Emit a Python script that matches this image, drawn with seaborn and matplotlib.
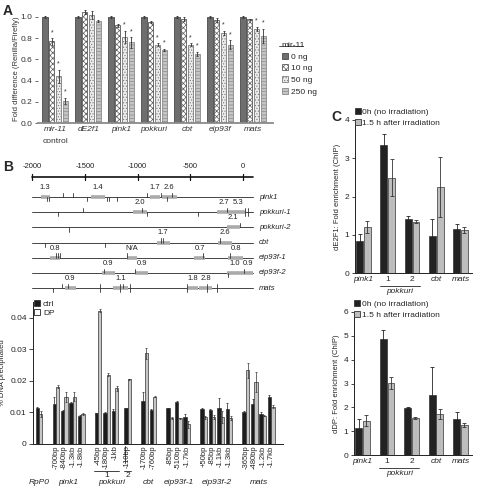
import matplotlib
matplotlib.use('Agg')
import matplotlib.pyplot as plt
import numpy as np
import pandas as pd
import seaborn as sns
from matplotlib.patches import Patch
from matplotlib.lines import Line2D

sns.set_style('ticks')
plt.rcParams['font.family'] = ['Liberation Sans', 'DejaVu Sans']
plt.rcParams['hatch.linewidth'] = 0.5

# ---------------- Panel A data ----------------
a_genes = ['mir-11', 'dE2f1', 'pink1', 'pokkuri', 'cbt', 'eip93f', 'mats']
a_doses = ['0 ng', '10 ng', '50 ng', '250 ng']
a_0ng = [1.0, 1.0, 1.0, 1.0, 1.0, 1.0, 1.0]
a_10ng = [0.77, 1.05, 0.92, 0.95, 0.98, 0.97, 0.98]
a_50ng = [0.44, 1.02, 0.81, 0.74, 0.74, 0.85, 0.89]
a_250ng = [0.21, 0.96, 0.76, 0.69, 0.65, 0.74, 0.82]
a_err_0ng = [0.005, 0.005, 0.005, 0.005, 0.005, 0.005, 0.005]
a_err_10ng = [0.03, 0.02, 0.01, 0.01, 0.02, 0.02, 0.005]
a_err_50ng = [0.06, 0.04, 0.06, 0.01, 0.01, 0.02, 0.02]
a_err_250ng = [0.03, 0.01, 0.05, 0.01, 0.02, 0.04, 0.07]
a_star_10ng = [True, False, False, False, False, False, False]
a_star_50ng = [True, False, True, True, True, True, True]
a_star_250ng = [True, False, True, True, True, True, True]

# ---------------- Panel B map data ----------------
map_genes = ['pink1', 'pokkuri-1', 'pokkuri-2', 'cbt', 'eip93f-1', 'eip93f-2', 'mats']
map_segments = [
    [(-1921, -1832, '1.3'), (-1446, -1310, '1.4'), (-883, -788, '1.7'), (-772, -630, '2.6')],
    [(-1047, -914, '2.0'), (-250, -107, '2.7'), (-107, 19, '5.3')],
    [(-155, -28, '2.1')],
    [(-820, -693, '1.7'), (-234, -107, '2.6')],
    [(-1832, -1737, '0.8'), (-1104, -1003, 'N/A'), (-462, -361, '0.7'), (-139, -3, '0.8')],
    [(-1341, -1215, '0.9'), (-1025, -899, '0.9'), (-155, -3, '1.0'), (-3, 95, '0.9')],
    [(-1690, -1585, '0.9'), (-1231, -1089, '1.1'), (-529, -424, '1.8'), (-414, -297, '2.8')],
]
map_ticks = [
    [(-1860, 'd'), (-1840, 'd'), (-1706, 'u'), (-1611, 'u'), (-1478, 'd'), (-1294, 'd'),
     (-1272, 'd'), (-1199, 'd'), (-914, 'u'), (-782, 'u'), (-725, 'd'), (-677, 'u')],
    [(-1753, 'd'), (-1516, 'u'), (-962, 'u'), (-914, 'd'), (-424, 'd'), (-155, 'u'), (19, 'b'), (50, 'b')],
    [(-1652, 'd'), (-28, 'u')],
    [(-1880, 'd'), (-1310, 'd'), (-778, 'u'), (-757, 'u'), (-218, 'u')],
    [(-1775, 'u'), (-1760, 'u'), (-1740, 'u'), (-1104, 'u'), (-383, 'u'), (-123, 'u')],
    [(-1316, 'u'), (-1025, 'u'), (-139, 'd'), (9, 'u')],
    [(-1800, 'd'), (-1721, 'u'), (-1659, 'u'), (-1357, 'b'), (-1168, 'b'), (-1136, 'u'),
     (-1073, 'b'), (-529, 'b'), (-345, 'b'), (-244, 'b')],
]
scale_ticks = [-2000, -1500, -1000, -500, 0]

# ---------------- Panel B ChIP data ----------------
b_groups = ['RpP0', 'pink1', 'pokkuri-1', 'pokkuri-2', 'cbt', 'eip93f-1', 'eip93f-2', 'mats']
b_group_sizes = [1, 4, 3, 1, 2, 3, 4, 4]
b_sites = ['', '-700bp', '-840bp', '-1.3kb', '-1.8kb', '-45bp', '-180bp', '-1kb', '-110bp',
           '-170bp', '-760bp', '-85bp', '-510bp', '-1.7kb', '+50bp', '-85bp', '-1.1kb', '-1.3kb',
           '-365bp', '-480bp', '-1.2kb', '-1.7kb']
b_ctrl = [0.0113, 0.0127, 0.0106, 0.0131, 0.0089, 0.0097, 0.0099, 0.0106, 0.0113, 0.0136, 0.0108,
          0.0113, 0.0132, 0.0087, 0.0112, 0.0108, 0.0113, 0.0111, 0.0100, 0.0127, 0.0094, 0.0150]
b_ctrl_err = [0.0003, 0.0023, 0.0003, 0.0002, 0.0002, 0.0002, 0.0002, 0.0005, 0.0002, 0.0028, 0.0002,
              0.0002, 0.0005, 0.0009, 0.0002, 0.0003, 0.0032, 0.0020, 0.0003, 0.0016, 0.0008, 0.0005]
b_dp = [0.0095, 0.0182, 0.0150, 0.0150, 0.0095, 0.0422, 0.0220, 0.0176, 0.0205, 0.0287, 0.0150,
        0.0081, 0.0081, 0.0062, 0.0085, 0.0085, 0.0085, 0.0083, 0.0234, 0.0197, 0.0090, 0.0118]
b_dp_err = [0.0010, 0.0005, 0.0016, 0.0015, 0.0003, 0.0005, 0.0006, 0.0008, 0.0002, 0.0018, 0.0002,
            0.0003, 0.0002, 0.0012, 0.0005, 0.0007, 0.0020, 0.0007, 0.0024, 0.0032, 0.0002, 0.0005]

# ---------------- Panel C data ----------------
c_sites = ['pink1', '1', '2', 'cbt', 'mats']
c_conds = ['0h (no irradiation)', '1.5 h after irradiation']
c_e2f1_0h = [0.84, 3.35, 1.41, 0.96, 1.16]
c_e2f1_0h_err = [0.19, 0.28, 0.07, 0.46, 0.13]
c_e2f1_15h = [1.20, 2.49, 1.34, 2.24, 1.12]
c_e2f1_15h_err = [0.16, 0.48, 0.04, 0.78, 0.08]
c_ddp_0h = [1.12, 4.85, 1.98, 2.51, 1.49]
c_ddp_0h_err = [0.38, 0.41, 0.02, 1.19, 0.32]
c_ddp_15h = [1.44, 3.03, 1.56, 1.72, 1.26]
c_ddp_15h_err = [0.23, 0.25, 0.03, 0.19, 0.09]

W, H = 480, 488
fig = plt.figure(figsize=(W / 100, H / 100), dpi=100)


def rect(x0, y0, x1, y1):
    return [x0 / W, 1 - y1 / H, (x1 - x0) / W, (y1 - y0) / H]


def add_err(ax, cont, errs, color='#222222', lw=0.6, cap=1.2):
    xs = [p.get_x() + p.get_width() / 2 for p in cont]
    ys = [p.get_height() for p in cont]
    ax.errorbar(xs, ys, yerr=errs, fmt='none', ecolor=color, elinewidth=lw,
                capsize=cap, capthick=lw, zorder=5)


fs = 6
fs_s = 5.5

# ================= Panel A =================
axA = fig.add_axes(rect(38, 8.5, 273, 123))
df_a = pd.DataFrame({
    'gene': a_genes * 4,
    'dose': sum([[d] * len(a_genes) for d in a_doses], []),
    'value': a_0ng + a_10ng + a_50ng + a_250ng,
})
a_fill = {'0 ng': '#6e6e6e', '10 ng': '#ffffff', '50 ng': '#ececec', '250 ng': '#c4c4c4'}
a_edge = {'0 ng': '#4a4a4a', '10 ng': '#5a5a5a', '50 ng': '#7a7a7a', '250 ng': '#8a8a8a'}
a_hatch = {'0 ng': None, '10 ng': 'xxxxxx', '50 ng': '......', '250 ng': '-----'}
sns.barplot(data=df_a, x='gene', y='value', hue='dose', order=a_genes, hue_order=a_doses,
            palette=a_fill, errorbar=None, width=0.82, gap=0.22, legend=False, ax=axA)
a_errs = [a_err_0ng, a_err_10ng, a_err_50ng, a_err_250ng]
a_stars = [None, a_star_10ng, a_star_50ng, a_star_250ng]
for cont, dose, errs, stars in zip(axA.containers, a_doses, a_errs, a_stars):
    for p in cont:
        p.set_edgecolor(a_edge[dose])
        p.set_linewidth(0.6)
        if a_hatch[dose]:
            p.set_hatch(a_hatch[dose])
    add_err(axA, cont, errs, color='#333333', lw=0.6, cap=1.0)
    if stars is not None:
        for p, s, e in zip(cont, stars, errs):
            if s:
                axA.text(p.get_x() + p.get_width() / 2, p.get_height() + e + 0.02, '*',
                         ha='center', va='bottom', fontsize=5, color='#333333')
axA.set_xlim(-0.52, 6.6)
axA.set_ylim(0, 1.08)
axA.set_yticks([0, 0.2, 0.4, 0.6, 0.8, 1.0])
axA.set_yticklabels(['0.0', '0.2', '0.4', '0.6', '0.8', '1.0'], fontsize=fs, color='#333333')
axA.set_xticks(range(len(a_genes)))
axA.set_xticklabels(a_genes, fontsize=fs, style='italic', color='#333333')
axA.tick_params(axis='x', length=0, pad=2)
axA.tick_params(axis='y', length=2.5, width=0.6, color='#555555', pad=1.5)
axA.text(0, -0.13, 'control', transform=axA.get_xaxis_transform(), ha='center', va='top',
         fontsize=fs, color='#333333')
axA.set_xlabel('')
axA.set_ylabel('Fold difference (Renilla/Firefly)', fontsize=fs_s, color='#333333', labelpad=2)
axA.yaxis.set_label_coords(-0.075, 0.47)
for s in ['top', 'right', 'left']:
    axA.spines[s].set_visible(False)
axA.spines['bottom'].set_color('#8a8a8a')
axA.spines['bottom'].set_linewidth(1.3)

a_handles = [Patch(facecolor=a_fill[d], edgecolor=a_edge[d], hatch=a_hatch[d], linewidth=0.6)
             for d in a_doses]
legA = fig.legend(a_handles, a_doses, loc='upper left', bbox_to_anchor=(276 / W, 1 - 36 / H),
                  frameon=False, fontsize=fs, title='mir-11', title_fontsize=fs,
                  handlelength=0.75, handleheight=0.75, handletextpad=0.4, labelspacing=0.45,
                  borderpad=0.2)
legA._legend_box.align = 'left'
fig.add_artist(Line2D([279 / W, 303 / W], [1 - 46 / H, 1 - 46 / H], color='#333333', lw=0.6))

# ================= Panel B map =================
axM = fig.add_axes(rect(20, 162, 300, 295))
axM.set_xlim(-2116, 541)
axM.set_ylim(6.46, -2.31)
axM.axis('off')
scale_y = -1.32
axM.plot([-2000, 95], [scale_y, scale_y], color='#111111', lw=1.2)
for t in scale_ticks:
    axM.plot([t, t], [scale_y - 0.22, scale_y + 0.22], color='#111111', lw=0.9)
    axM.text(t, scale_y - 0.45, str(t), ha='center', va='bottom', fontsize=fs_s, color='#222222')
tick_len = 0.28
for row, (gene, segs, ticks) in enumerate(zip(map_genes, map_segments, map_ticks)):
    axM.plot([-2000, 95], [row, row], color='#444444', lw=0.7, zorder=2)
    for s0, s1, lab in segs:
        axM.plot([s0, s1], [row, row], color='#aaaaaa', lw=2.6, solid_capstyle='butt', zorder=3)
        axM.text((s0 + s1) / 2, row - 0.4, lab, ha='center', va='bottom', fontsize=fs_s,
                 color='#222222')
    for pos, d in ticks:
        y0 = row - tick_len if d in 'ub' else row
        y1 = row + tick_len if d in 'db' else row
        axM.plot([pos, pos], [y0, y1], color='#333333', lw=0.6, zorder=4)
    axM.text(150, row, gene, ha='left', va='center', fontsize=fs_s, style='italic', color='#222222')

# ================= Panel B ChIP =================
axB = fig.add_axes(rect(33, 302, 283, 444))
b_gap = [0, 2, 2, 1.5, 2, 2, 2, 2]
pos = []
cur = 0.0
for g, n in zip(b_gap, b_group_sizes):
    cur += g if pos else 0
    for i in range(n):
        pos.append(cur + i)
    cur = pos[-1]
group_pos = []
k = 0
for n in b_group_sizes:
    group_pos.append(pos[k:k + n])
    k += n
n_b = len(b_ctrl)
df_b = pd.DataFrame({'pos': pos + pos, 'val': b_ctrl + b_dp,
                     'cond': ['ctrl'] * n_b + ['DP'] * n_b})
sns.barplot(data=df_b, x='pos', y='val', hue='cond', hue_order=['ctrl', 'DP'], native_scale=True,
            palette={'ctrl': '#1c1c1c', 'DP': '#c6c6c6'}, errorbar=None, width=0.8,
            edgecolor='#333333', linewidth=0.5, legend=False, ax=axB)
add_err(axB, axB.containers[0], b_ctrl_err, color='#222222', lw=0.5, cap=0.9)
add_err(axB, axB.containers[1], b_dp_err, color='#333333', lw=0.5, cap=0.9)
axB.set_xlim(-0.71, 28.9)
axB.set_ylim(0, 0.045)
axB.set_yticks([0, 0.01, 0.02, 0.03, 0.04])
axB.set_yticklabels(['0', '0.01', '0.02', '0.03', '0.04'], fontsize=fs)
axB.set_xticks(pos)
axB.set_xticklabels(b_sites, rotation=90, fontsize=fs_s, va='top')
axB.tick_params(axis='x', length=0, pad=1)
axB.tick_params(axis='y', length=3, width=0.6, pad=1.5)
axB.set_xlabel('')
axB.set_ylabel('% DNA precipitated', fontsize=fs_s, labelpad=3)
for s in ['top', 'right']:
    axB.spines[s].set_visible(False)
for s in ['left', 'bottom']:
    axB.spines[s].set_linewidth(0.7)
    axB.spines[s].set_color('#222222')
xt = axB.get_xaxis_transform()
hB = axB.get_position().height * H
group_names_show = ['RpP0', 'pink1', None, None, 'cbt', 'eip93f-1', 'eip93f-2', 'mats']
for name, gp in zip(group_names_show, group_pos):
    if name:
        axB.text(np.mean(gp), -38 / hB, name, transform=xt, ha='center', va='center',
                 fontsize=fs, style='italic')
for num, gp in [('1', group_pos[2]), ('2', group_pos[3])]:
    axB.plot([gp[0] - 0.45, gp[-1] + 0.45], [-27 / hB, -27 / hB], transform=xt, color='#222222',
             lw=0.6, clip_on=False)
    axB.text(np.mean(gp), -28 / hB, num, transform=xt, ha='center', va='top', fontsize=fs)
sep = group_pos[3][0] - 0.35
axB.plot([sep, sep], [-2 / hB, -19 / hB], transform=xt, color='#222222', lw=0.6, clip_on=False)
axB.text(np.mean(group_pos[2] + group_pos[3]), -38 / hB, 'pokkuri', transform=xt, ha='center',
         va='center', fontsize=fs, style='italic')
b_handles = [Patch(facecolor='#1c1c1c', edgecolor='#222222', linewidth=0.5),
             Patch(facecolor='white', edgecolor='#222222', linewidth=0.6)]
axB.legend(b_handles, ['ctrl', 'DP'], loc='upper left', bbox_to_anchor=(0.0, 1.02), frameon=False,
           fontsize=fs, handlelength=0.7, handleheight=0.7, handletextpad=0.4, labelspacing=0.2,
           borderpad=0.1, borderaxespad=0)

# ================= Panel C =================
def panel_c(ax, v0, e0, v1, e1, ymax, ylabel):
    df_c = pd.DataFrame({'site': c_sites * 2, 'val': v0 + v1,
                         'cond': [c_conds[0]] * len(c_sites) + [c_conds[1]] * len(c_sites)})
    sns.barplot(data=df_c, x='site', y='val', hue='cond', order=c_sites, hue_order=c_conds,
                palette={c_conds[0]: '#222222', c_conds[1]: '#bdbdbd'}, errorbar=None,
                width=0.64, gap=0.12, edgecolor='#333333', linewidth=0.5, legend=False, ax=ax)
    add_err(ax, ax.containers[0], e0, color='#222222', lw=0.6, cap=1.5)
    add_err(ax, ax.containers[1], e1, color='#333333', lw=0.6, cap=1.5)
    ax.set_xlim(-0.35, 4.47)
    ax.set_ylim(0, ymax)
    ax.set_yticks(range(ymax + 1))
    ax.tick_params(axis='y', labelsize=fs, length=2.5, width=0.6, pad=1.5)
    ax.tick_params(axis='x', length=0, pad=2)
    ax.set_xticks(range(len(c_sites)))
    ax.set_xticklabels(c_sites, fontsize=fs)
    for lab in ax.get_xticklabels():
        if lab.get_text() not in ('1', '2'):
            lab.set_style('italic')
    ax.set_xlabel('')
    ax.set_ylabel(ylabel, fontsize=fs_s, labelpad=3)
    for s in ['top', 'right']:
        ax.spines[s].set_visible(False)
    for s in ['left', 'bottom']:
        ax.spines[s].set_linewidth(0.7)
        ax.spines[s].set_color('#222222')
    xt = ax.get_xaxis_transform()
    hpx = ax.get_position().height * H
    ax.plot([0.68, 2.32], [-13 / hpx, -13 / hpx], transform=xt, color='#222222', lw=0.6,
            clip_on=False)
    ax.text(1.5, -15 / hpx, 'pokkuri', transform=xt, ha='center', va='top', fontsize=fs,
            style='italic')
    handles = [Patch(facecolor='#222222', edgecolor='#222222', linewidth=0.5),
               Patch(facecolor='#bdbdbd', edgecolor='#333333', linewidth=0.6)]
    ax.legend(handles, c_conds, loc='upper left', bbox_to_anchor=(0.0, 1 + 12 / hpx),
              frameon=False, fontsize=fs, handlelength=0.7, handleheight=0.7,
              handletextpad=0.2, labelspacing=0.35, borderpad=0, borderaxespad=0)


axC1 = fig.add_axes(rect(355, 120, 472, 273))
panel_c(axC1, c_e2f1_0h, c_e2f1_0h_err, c_e2f1_15h, c_e2f1_15h_err, 4,
        'dE2F1: Fold enrichment (ChIP)')
axC2 = fig.add_axes(rect(354, 312, 472, 455))
panel_c(axC2, c_ddp_0h, c_ddp_0h_err, c_ddp_15h, c_ddp_15h_err, 6,
        'dDP: Fold enrichment (ChIP)')

# panel letters
fig.text(3 / W, 1 - 11 / H, 'A', fontsize=10, weight='bold', va='center')
fig.text(3 / W, 1 - 167 / H, 'B', fontsize=10, weight='bold', va='center')
fig.text(331 / W, 1 - 117 / H, 'C', fontsize=10, weight='bold', va='center')

fig.savefig('out.png', dpi=100)
